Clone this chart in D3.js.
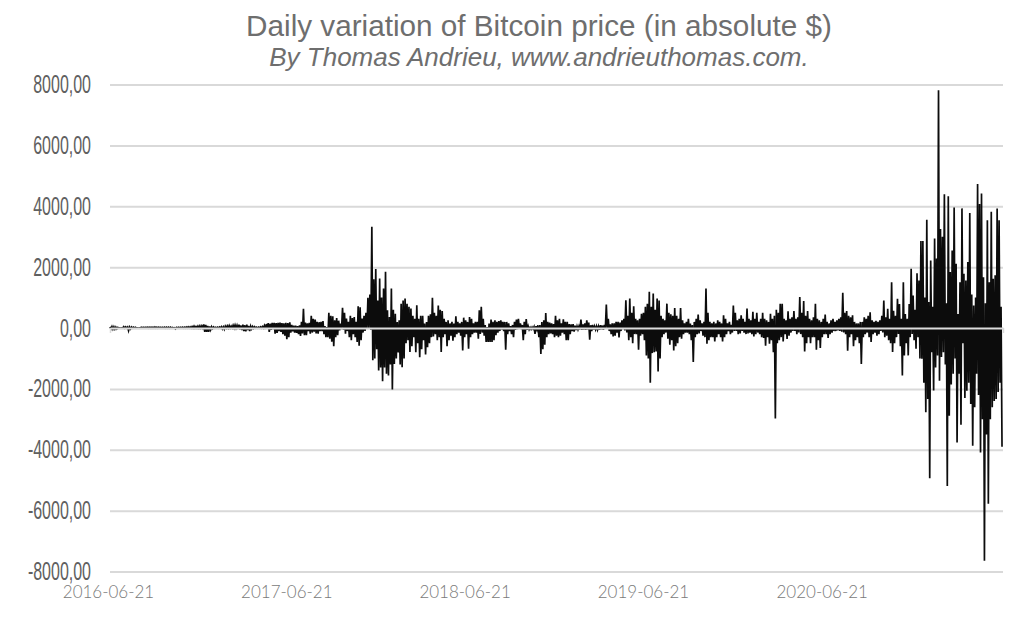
<!DOCTYPE html>
<html>
<head>
<meta charset="utf-8">
<script src="https://cdn.jsdelivr.net/npm/d3@7"></script>
<style>
  html, body { margin: 0; background: #fff; }
  svg { display: block; }
</style>
</head>
<body>
<svg id="chart" width="1024" height="620"></svg>
<script>
const titleText = "Daily variation of Bitcoin price (in absolute $)";
const subtitleText = "By Thomas Andrieu, www.andrieuthomas.com.";

const yTicks = [8000, 6000, 4000, 2000, 0, -2000, -4000, -6000, -8000];
const xTicks = ["2016-06-21", "2017-06-21", "2018-06-21", "2019-06-21", "2020-06-21"];
const firstDay = "2016-06-21";
const lastDay = "2021-06-23";
const stepDays = 4;

// Largest rise seen in each 4 day step
const gains = [
  35,45,40,30,20,5,5,45,40,35,30,35,30,25,5,5,25,25,25,30,
  30,30,30,35,30,30,25,25,30,30,30,30,20,10,20,25,25,30,30,35,
  40,40,50,60,50,60,70,70,120,100,70,50,40,35,25,30,35,45,40,60,
  70,80,60,90,100,90,110,80,110,90,110,70,60,50,40,30,30,40,50,80,
  130,160,140,170,170,160,170,180,160,150,170,160,190,100,80,80,60,90,200,630,
  180,150,170,400,300,275,200,190,200,230,60,30,500,400,385,250,330,240,140,660,
  500,310,200,400,330,360,200,715,680,310,400,500,990,1100,3330,1600,1940,900,1630,1000,
  1300,1850,580,360,1300,600,470,200,250,800,900,970,800,700,640,400,300,750,300,400,
  400,150,200,400,450,990,500,400,740,600,560,300,200,250,150,200,150,385,200,150,
  200,340,250,200,360,300,150,200,200,580,700,300,100,30,150,275,200,250,200,230,
  250,200,200,200,150,60,100,200,275,300,150,100,200,290,60,20,30,40,60,90,
  100,200,250,495,200,180,150,130,400,250,300,150,285,200,200,130,120,130,80,60,
  60,275,120,150,250,180,90,100,60,60,60,90,80,100,770,300,120,150,150,200,
  200,180,250,300,910,400,970,500,715,300,250,300,470,500,700,800,1190,700,1130,600,
  970,900,400,300,250,800,500,450,400,660,400,300,660,250,150,200,300,150,100,200,
  300,440,250,150,200,1300,500,200,150,200,150,250,200,150,420,300,150,200,100,740,
  500,250,300,420,300,200,640,300,250,530,300,500,200,300,500,300,250,200,470,300,
  400,600,500,800,800,300,250,550,300,350,560,300,350,1020,500,890,400,560,300,250,
  350,800,300,250,200,300,440,200,150,250,300,200,250,300,350,1155,500,560,400,350,
  420,200,150,150,200,200,350,300,400,520,250,200,240,200,250,400,900,350,630,300,
  1500,570,400,960,790,300,1500,460,300,790,1950,1070,600,1800,1560,2860,2860,1000,3560,850,
  2220,700,2940,2280,7810,3250,3000,4390,810,4330,1840,2550,3960,2110,460,1500,3930,1780,1560,2170,
  3780,1100,740,1000,4730,4070,4420,1670,810,3540,1500,3820,1620,1730,3930,3540,700
];

// Largest fall in the same steps, as a positive size
const losses = [
  30,40,40,30,0,0,0,0,0,90,30,0,0,0,0,0,0,0,0,0,
  0,0,0,0,0,0,0,0,0,0,0,0,0,30,0,0,0,0,0,0,
  0,0,0,0,0,0,0,0,130,130,130,60,20,0,0,0,0,30,40,0,
  0,0,0,0,0,30,40,70,100,110,70,100,30,10,0,0,0,0,0,30,
  20,130,60,40,190,160,100,130,200,250,370,300,150,110,150,160,200,260,180,240,
  240,100,190,150,120,180,190,100,100,200,300,300,350,450,600,300,240,80,40,60,
  190,100,300,400,200,300,460,580,400,150,100,20,20,60,1060,1000,700,1400,1300,1750,
  1300,1500,1560,1200,2020,1180,1000,800,1200,1290,1000,500,400,790,600,300,800,500,960,700,
  400,870,630,500,300,280,200,400,300,790,300,200,600,400,250,420,300,200,150,250,
  740,300,200,680,300,200,150,150,350,200,150,250,460,460,460,460,400,240,150,100,
  50,100,715,200,100,200,300,60,40,30,40,400,200,60,50,40,30,190,50,300,
  850,700,550,300,200,180,200,300,250,300,250,150,200,400,400,200,100,120,70,50,
  50,60,50,60,50,385,100,50,50,60,60,40,60,20,20,100,200,275,250,150,
  310,100,40,80,150,400,300,500,200,200,715,250,200,400,900,1000,1800,825,800,770,
  1430,1000,300,200,150,350,550,400,740,600,500,300,350,200,150,150,200,400,1120,300,
  200,180,100,250,300,520,400,300,300,440,300,200,300,440,300,200,100,200,150,100,
  100,200,180,100,150,200,180,150,200,275,200,150,200,300,330,580,300,520,400,800,
  2970,500,400,300,440,200,360,250,150,100,100,200,150,200,300,770,500,300,500,300,
  300,715,400,660,300,200,200,330,200,150,100,100,80,100,120,150,200,750,300,200,
  600,400,300,500,1180,300,200,150,300,460,200,150,250,200,100,150,300,250,400,500,
  790,500,300,200,600,1560,900,500,900,300,200,400,680,300,1000,1010,1800,2770,2330,4940,
  800,2050,1300,900,1730,950,800,1200,5190,2880,1860,1500,1000,3760,1500,3180,500,2300,2060,1800,
  2500,3870,2600,1500,2200,4090,3000,7645,3500,5775,3000,2600,2400,2330,2100,1800,3900
];

const parseDay = d3.utcParse("%Y-%m-%d");
const svg = d3.select("#chart");

// Set scales
const x = d3.scaleUtc()
    .domain([parseDay(firstDay), parseDay(lastDay)])
    .range([110, 1003]);
const y = d3.scaleLinear()
    .domain([-8000, 8000])
    .range([571.5, 84.5]);

// Titles
svg.append("text")
    .attr("x", 539).attr("y", 36)
    .attr("text-anchor", "middle")
    .style("font-family", "Liberation Sans")
    .style("font-size", "29.7px")
    .style("fill", "#6e6e6e")
    .text(titleText);

svg.append("text")
    .attr("x", 539).attr("y", 66)
    .attr("text-anchor", "middle")
    .style("font-family", "Liberation Sans")
    .style("font-style", "italic")
    .style("font-size", "26px")
    .style("fill", "#6e6e6e")
    .text(subtitleText);

// Gridlines and y labels
const yAxis = svg.append("g")
    .attr("transform", "translate(110,0)")
    .call(d3.axisLeft(y)
        .tickValues(yTicks)
        .tickSize(-893)
        .tickFormat(d => d.toFixed(2).replace(".", ",")));

yAxis.select(".domain").remove();
yAxis.selectAll(".tick line")
    .attr("stroke", "#d9d9d9")
    .attr("stroke-width", 2);
yAxis.selectAll(".tick text")
    .attr("x", 0)
    .attr("transform", "translate(-19,0) scale(0.64,1)")
    .style("font-family", "Liberation Sans Narrow, Liberation Sans")
    .style("font-size", "25px")
    .style("fill", "#606060");

// Daily line: every step goes up to its gain, then down to its loss
const points = [];
gains.forEach((g, i) => {
    const day = d3.utcDay.offset(parseDay(firstDay), i * stepDays);
    points.push({date: day, value: g});
    points.push({date: d3.utcDay.offset(day, stepDays / 2), value: -losses[i]});
});

const line = d3.line()
    .x(d => x(d.date))
    .y(d => y(d.value));

svg.append("path")
    .datum(points)
    .attr("fill", "none")
    .attr("stroke", "#0c0c0c")
    .attr("stroke-width", 1.7)
    .attr("d", line);

// Zero line goes on top of the data, with end ticks
const zeroAxis = svg.append("g")
    .attr("transform", "translate(0," + y(0) + ")")
    .call(d3.axisBottom(x)
        .tickValues([parseDay(firstDay), parseDay(lastDay)])
        .tickSize(5)
        .tickSizeOuter(0)
        .tickFormat(""));

zeroAxis.select(".domain")
    .attr("stroke", "#dcdcdc")
    .attr("stroke-width", 1.8);
zeroAxis.selectAll(".tick line")
    .attr("stroke", "#d9d9d9")
    .attr("stroke-width", 1.5);

// Date labels below the plot
const xAxis = svg.append("g")
    .attr("transform", "translate(0,583)")
    .call(d3.axisBottom(x)
        .tickValues(xTicks.map(parseDay))
        .tickSize(0)
        .tickFormat(d3.utcFormat("%Y-%m-%d")));

xAxis.select(".domain").remove();
xAxis.selectAll("text")
    .attr("dx", -2)
    .style("font-family", "Lato")
    .style("font-weight", 300)
    .style("font-size", "17px")
    .style("fill", "#7a7a7a");
</script>
</body>
</html>
